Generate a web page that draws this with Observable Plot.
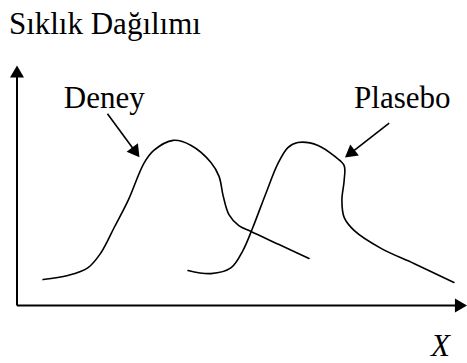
<!DOCTYPE html>
<html><head><meta charset="utf-8">
<script src="https://cdn.jsdelivr.net/npm/d3@7"></script>
<script src="https://cdn.jsdelivr.net/npm/@observablehq/plot@0.6"></script>
<style>body{margin:0;background:#fff;}</style>
</head><body>
<div id="chart"></div>
<script>
// Deney (experiment) frequency curve
const deneyX = [5.8, 11.3, 15.8, 18.7, 21.6, 24.7, 28.2, 30.4, 34.7, 38.7, 43.1, 44.9, 45.8, 47.1, 49.3, 52.0, 58.7, 64.9];
const deneyY = [10.8, 12.5, 15.8, 22.1, 32.5, 43.8, 59.2, 64.6, 68.8, 66.7, 59.6, 53.8, 45.8, 37.9, 33.3, 30.8, 25.0, 19.6];
// Plasebo (placebo) frequency curve
const plaseboX = [38.0, 43.1, 47.6, 50.2, 52.4, 55.3, 58.0, 60.2, 62.4, 66.9, 70.9, 72.7, 72.7, 72.2, 72.7, 74.9, 80.9, 88.2, 97.1];
const plaseboY = [14.6, 13.3, 15.8, 22.9, 32.5, 46.7, 59.2, 65.8, 67.9, 66.7, 61.7, 58.3, 52.1, 43.8, 36.7, 31.3, 23.8, 17.5, 9.6];
// arrows: axes and pointers
const arrowX1 = [0, 0, 20.1, 82.7];
const arrowY1 = [0, 0, 79.9, 76.0];
const arrowX2 = [0, 100, 27.2, 72.9];
const arrowY2 = [100, 0, 61.8, 61.7];
const arrowWidth = [2, 2, 1.6, 1.6];
// labels
const labels = ["Sıklık Dağılımı", "Deney", "Plasebo"];
const labelX = [-1.8, 10.4, 74.9];
const labelY = [113.3, 82.5, 82.5];
const axisLabel = ["X"];
const axisLabelX = [92.0];
const axisLabelY = [-21.2];

const serif = "Liberation Serif";
const xOpt = {domain: [0, 100], range: [16.5, 466.5]};
const yOpt = {domain: [0, 100], range: [305, 65]};
const sx = Plot.scale({x: xOpt});
const sy = Plot.scale({y: yOpt});

const deney = deneyX.map((x, i) => ({x, y: deneyY[i]}));
const plasebo = plaseboX.map((x, i) => ({x, y: plaseboY[i]}));

const headBack = 8; // px from tip to triangle centroid
const arrows = arrowX1.map((x1, i) => {
  const px1 = sx.apply(x1), py1 = sy.apply(arrowY1[i]);
  const px2 = sx.apply(arrowX2[i]), py2 = sy.apply(arrowY2[i]);
  const L = Math.hypot(px2 - px1, py2 - py1);
  const ux = (px2 - px1) / L, uy = (py2 - py1) / L;
  const cx = px2 - ux * headBack, cy = py2 - uy * headBack;
  return {
    x1, y1: arrowY1[i],
    xe: sx.invert(cx), ye: sy.invert(cy),
    angle: Math.atan2(ux, -uy) * 180 / Math.PI,
    w: arrowWidth[i]
  };
});
const labelData = labels.map((t, i) => ({t, x: labelX[i], y: labelY[i]}));
const axisLabelData = axisLabel.map((t, i) => ({t, x: axisLabelX[i], y: axisLabelY[i]}));

const chart = Plot.plot({
  width: 467, height: 363,
  margin: 0,
  x: {...xOpt, axis: null},
  y: {...yOpt, axis: null},
  style: {background: "#fff", fontFamily: serif},
  marks: [
    Plot.line(deney, {x: "x", y: "y", curve: "catmull-rom", stroke: "black", strokeWidth: 1.6}),
    Plot.line(plasebo, {x: "x", y: "y", curve: "catmull-rom", stroke: "black", strokeWidth: 1.6}),
    Plot.link(arrows, {x1: "x1", y1: "y1", x2: "xe", y2: "ye", stroke: "black", strokeWidth: "w"}),
    Plot.dot(arrows, {x: "xe", y: "ye", symbol: "triangle", r: 5.2, fill: "black", stroke: "none", rotate: "angle"}),
    Plot.text(labelData, {x: "x", y: "y", text: "t", textAnchor: "start", lineAnchor: "bottom",
      fontFamily: serif, fontSize: 31, fill: "black"}),
    Plot.text(axisLabelData, {x: "x", y: "y", text: "t", textAnchor: "start", lineAnchor: "bottom",
      fontFamily: serif, fontStyle: "italic", fontSize: 31, fill: "black"})
  ]
});
document.getElementById("chart").appendChild(chart);
</script>
</body></html>
